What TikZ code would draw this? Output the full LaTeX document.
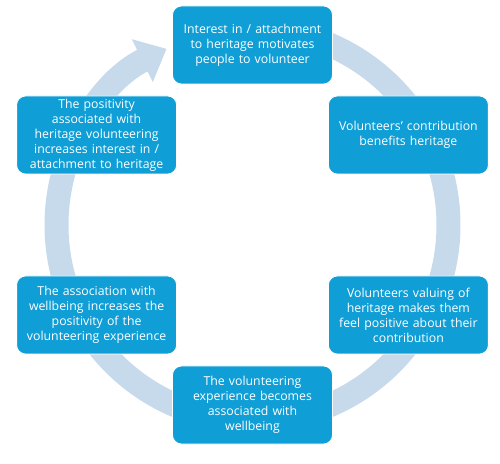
\documentclass[tikz,border=0pt]{standalone}
\usepackage{fontspec}
\setmainfont{Open Sans}
\usetikzlibrary{arrows.meta,calc}
\definecolor{boxblue}{RGB}{16,158,214}
\definecolor{ringblue}{RGB}{198,218,236}
\tikzset{
  stepbox/.style={rectangle, rounded corners=9pt, fill=boxblue, draw=white, line width=0.8pt,
    minimum width=160pt, minimum height=78pt, text width=156pt, align=center,
    text=white, font=\fontsize{12.3}{15}\selectfont, inner sep=1pt},
  ring/.style={draw=ringblue, line width=24pt, -{Triangle[width=46pt,length=27pt]}}
}
\begin{document}
\begin{tikzpicture}[x=1pt,y=1pt]
\useasboundingbox (0,0) rectangle (500,463);
\coordinate (c) at (252.5,238);
\draw[ring] (c) ++(88:196) arc[start angle=88, end angle=-244, radius=196];
\node[stepbox] (n1) at ($(c)+(90:180)$) {Interest in / attachment\\to heritage motivates\\people to volunteer};
\node[stepbox] (n2) at ($(c)+(30:180)$) {Volunteers' contribution\\benefits heritage};
\node[stepbox] (n3) at ($(c)+(-30:180)$) {Volunteers valuing of\\heritage makes them\\feel positive about their\\contribution};
\node[stepbox] (n4) at ($(c)+(-90:180)$) {The volunteering\\experience becomes\\associated with\\wellbeing};
\node[stepbox] (n5) at ($(c)+(-150:180)$) {The association with\\wellbeing increases the\\positivity of the\\volunteering experience};
\node[stepbox] (n6) at ($(c)+(150:180)$) {The positivity\\associated with\\heritage volunteering\\increases interest in /\\attachment to heritage};
\end{tikzpicture}
\end{document}
